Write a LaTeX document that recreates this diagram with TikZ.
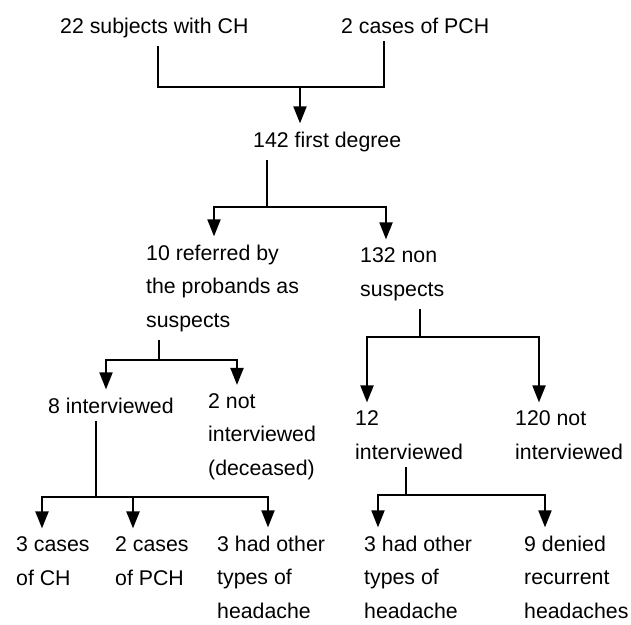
\documentclass[tikz,border=0pt]{standalone}
\usepackage{fontspec}
\setmainfont{Liberation Sans}
\usetikzlibrary{arrows.meta}
\tikzset{
  txt/.style={anchor=base west,align=left,inner xsep=0pt,inner ysep=8pt,
    font=\fontsize{21.3pt}{33.5pt}\selectfont},
  link/.style={line width=2pt},
  arr/.style={link,-{Triangle[width=13pt,length=17pt]}}
}
\begin{document}
\begin{tikzpicture}[x=1pt,y=-1pt]
\useasboundingbox (0,0) rectangle (631,624);
% texts (placed at the baseline of their last line)
\node[txt] (ch) at (60,33) {22 subjects with CH};
\node[txt] (pch) at (341,33) {2 cases of PCH};
\node[txt] (first) at (253,147) {142 first degree};
\node[txt] (ref) at (146,327) {10 referred by\\the probands as\\suspects};
\node[txt] (non) at (360,296) {132 non\\suspects};
\node[txt] (eight) at (48,413) {8 interviewed};
\node[txt] (twonot) at (208,475) {2 not\\interviewed\\(deceased)};
\node[txt] (twelve) at (355,459) {12\\interviewed};
\node[txt] (onetw) at (515,459) {120 not\\interviewed};
\node[txt] (cch) at (16,585) {3 cases\\of CH};
\node[txt] (cpch) at (115,585) {2 cases\\of PCH};
\node[txt] (oth1) at (217,618) {3 had other\\types of\\headache};
\node[txt] (oth2) at (364,618) {3 had other\\types of\\headache};
\node[txt] (den) at (524,618) {9 denied\\recurrent\\headaches};
% junctions
\coordinate (j1) at (300,87);
\coordinate (j2) at (267,207);
\coordinate (j3) at (159,360);
\coordinate (j4) at (420,337);
\coordinate (j5) at (96,497);
\coordinate (j6) at (406,495);
% connectors
\draw[link] (ch.south -| 158,0) |- (j1) -| (pch.south -| 384,0);
\draw[arr] (j1) -- (first.north -| j1);
\draw[link] (first.south -| j2) -- (j2);
\draw[arr] (j2) -| (ref.north -| 214,0);
\draw[arr] (j2) -| (non.north -| 386,0);
\draw[link] (ref.south -| j3) -- (j3);
\draw[arr] (j3) -| (eight.north -| 106,0);
\draw[arr] (j3) -| (twonot.north -| 237,0);
\draw[link] (non.south -| j4) -- (j4);
\draw[arr] (j4) -| (twelve.north -| 367,0);
\draw[arr] (j4) -| (onetw.north -| 539,0);
\draw[link] (eight.south -| j5) -- (j5);
\draw[arr] (j5) -| (cch.north -| 42,0);
\draw[arr] (j5) -| (cpch.north -| 133,0);
\draw[arr] (j5) -| (oth1.north -| 268,0);
\draw[link] (twelve.south -| j6) -- (j6);
\draw[arr] (j6) -| (oth2.north -| 378,0);
\draw[arr] (j6) -| (den.north -| 545,0);
\end{tikzpicture}
\end{document}
